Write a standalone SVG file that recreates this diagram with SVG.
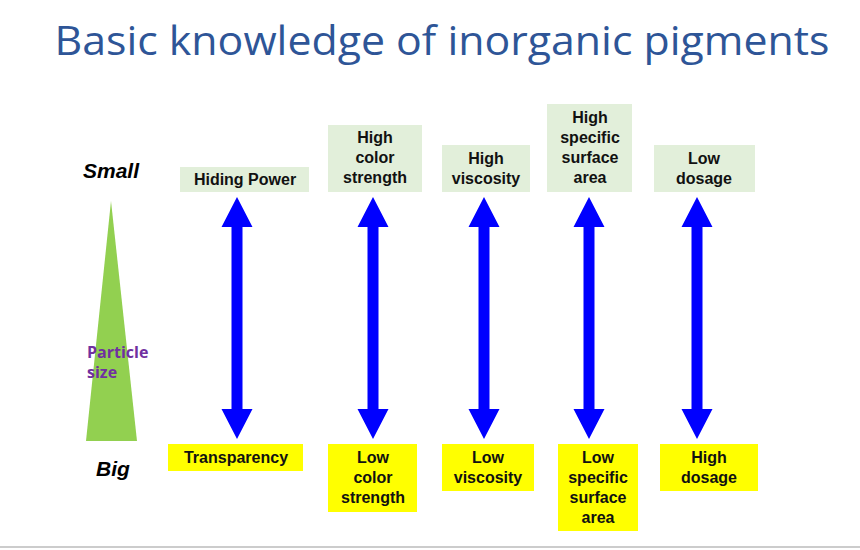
<svg xmlns="http://www.w3.org/2000/svg" width="860" height="550" viewBox="0 0 860 550">
<defs>
<style>
.t{font-family:"Liberation Sans",Arial,sans-serif;font-weight:bold;font-size:16px;fill:#111;text-anchor:middle}
.g{fill:#E2EFDA}
.y{fill:#FFFF00}
.a{fill:#0000FF}
.side{font-family:"Liberation Sans",Arial,sans-serif;font-weight:bold;font-style:italic;font-size:21px;fill:#000;text-anchor:middle}
</style>
<path id="arr" d="M0,0 L15.5,30 L5.5,30 L5.5,212 L15.5,212 L0,242 L-15.5,212 L-5.5,212 L-5.5,30 L-15.5,30 Z"/>
</defs>
<rect width="860" height="550" fill="#fff"/>
<text x="442" y="55" font-family="'Open Sans','Liberation Sans',sans-serif" font-size="41" fill="#2E5597" text-anchor="middle" textLength="775" lengthAdjust="spacingAndGlyphs">Basic knowledge of inorganic pigments</text>
<line x1="0" y1="547" x2="860" y2="547" stroke="#ccc" stroke-width="2"/>
<g id="scale">
<polygon points="111,201 137,441 86,441" fill="#92D050"/>
<text class="side" x="111" y="178">Small</text>
<text class="side" x="113" y="476">Big</text>
<text x="87" y="358" font-family="'Open Sans','Liberation Sans',sans-serif" font-weight="bold" font-size="16" fill="#7030A0">Particle</text>
<text x="87" y="378" font-family="'Open Sans','Liberation Sans',sans-serif" font-weight="bold" font-size="16" fill="#7030A0">size</text>
</g>
<g id="connectors" class="a">
<use href="#arr" x="237" y="197"/>
<use href="#arr" x="373" y="197"/>
<use href="#arr" x="484" y="197"/>
<use href="#arr" x="589" y="197"/>
<use href="#arr" x="697" y="197"/>
</g>
<g id="hiding"><rect class="g" x="180" y="167" width="129" height="25"/><text class="t" x="245" y="185">Hiding Power</text></g>
<g id="highcolor"><rect class="g" x="328" y="125" width="94" height="67"/><text class="t" x="375" y="143">High</text><text class="t" x="375" y="163">color</text><text class="t" x="375" y="183">strength</text></g>
<g id="highvisc"><rect class="g" x="442" y="145" width="88" height="47"/><text class="t" x="486" y="164">High</text><text class="t" x="486" y="184">viscosity</text></g>
<g id="highssa"><rect class="g" x="547" y="104" width="85" height="88"/><text class="t" x="590" y="123">High</text><text class="t" x="590" y="143">specific</text><text class="t" x="590" y="163">surface</text><text class="t" x="590" y="183">area</text></g>
<g id="lowdose"><rect class="g" x="654" y="145" width="101" height="47"/><text class="t" x="704" y="164">Low</text><text class="t" x="704" y="184">dosage</text></g>
<g id="transp"><rect class="y" x="168" y="444" width="135" height="27"/><text class="t" x="236" y="463">Transparency</text></g>
<g id="lowcolor"><rect class="y" x="328" y="444" width="89" height="68"/><text class="t" x="373" y="463">Low</text><text class="t" x="373" y="483">color</text><text class="t" x="373" y="503">strength</text></g>
<g id="lowvisc"><rect class="y" x="442" y="444" width="92" height="47"/><text class="t" x="488" y="463">Low</text><text class="t" x="488" y="483">viscosity</text></g>
<g id="lowssa"><rect class="y" x="558" y="444" width="80" height="87"/><text class="t" x="598" y="463">Low</text><text class="t" x="598" y="483">specific</text><text class="t" x="598" y="503">surface</text><text class="t" x="598" y="523">area</text></g>
<g id="highdose"><rect class="y" x="660" y="444" width="98" height="47"/><text class="t" x="709" y="463">High</text><text class="t" x="709" y="483">dosage</text></g>
</svg>
